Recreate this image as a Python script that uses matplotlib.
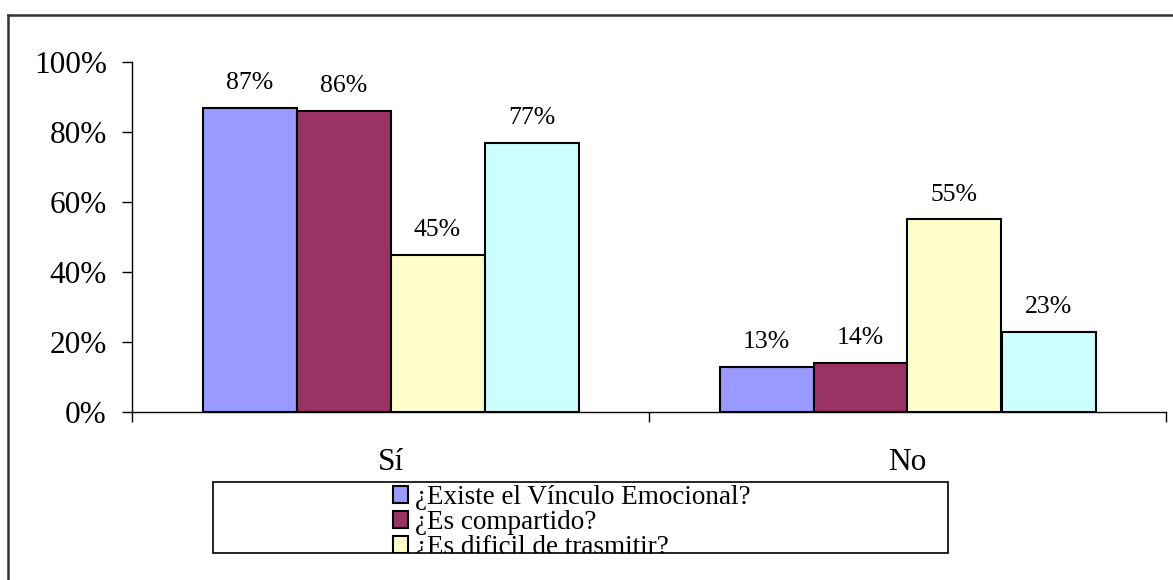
import matplotlib
matplotlib.use("Agg")
import matplotlib.pyplot as plt
import numpy as np
from matplotlib.patches import Rectangle, Patch
from matplotlib.lines import Line2D

categories = ["Sí", "No"]
series_names = ["¿Existe el Vínculo Emocional?", "¿Es compartido?",
                "¿Es dificil de trasmitir?", "Serie 4"]
series_values = [
    [0.87, 0.13],
    [0.86, 0.14],
    [0.45, 0.55],
    [0.77, 0.23],
]
value_labels = [["87%", "13%"], ["86%", "14%"], ["45%", "55%"], ["77%", "23%"]]
y_ticks = [0.0, 0.2, 0.4, 0.6, 0.8, 1.0]
y_tick_labels = ["0%", "20%", "40%", "60%", "80%", "100%"]
colors = ["#9999FF", "#993366", "#FFFFCC", "#CCFFFF"]

plt.rcParams["font.family"] = ["Liberation Serif", "DejaVu Serif"]

W, H = 1173, 580
fig = plt.figure(figsize=(W / 100, H / 100), dpi=100)
ax = fig.add_axes([132 / W, (H - 412) / H, (1166 - 132) / W, 350 / H])

n_series = len(series_values)
gap = 1.5
width = 1.0 / (n_series + gap)
x = np.arange(len(categories))
for i, (vals, c) in enumerate(zip(series_values, colors)):
    offs = (i - (n_series - 1) / 2) * width
    bars = ax.bar(x + offs, vals, width, color=c, edgecolor="black",
                  linewidth=1.5, label=series_names[i])
    for b, lab in zip(bars, value_labels[i]):
        ax.annotate(lab, (b.get_x() + b.get_width() / 2, b.get_height()),
                    xytext=(0, 10), textcoords="offset points",
                    ha="center", va="bottom", fontsize=18.5)

ax.set_xlim(-0.5, len(categories) - 0.5)
ax.set_ylim(0, 1.0)
ax.set_yticks(y_ticks)
ax.set_yticklabels(y_tick_labels, fontsize=22.5)
ax.tick_params(axis="y", direction="out", length=7, width=1, pad=11)

ax.set_xticks(np.arange(len(categories) + 1) - 0.5)
ax.set_xticklabels([])
ax.tick_params(axis="x", which="major", direction="out", length=7, width=1)
ax.set_xticks(x, minor=True)
ax.set_xticklabels(categories, minor=True, fontsize=22.5)
ax.tick_params(axis="x", which="minor", length=0, pad=26)

for s in ["top", "right"]:
    ax.spines[s].set_visible(False)
ax.spines["left"].set_linewidth(1)
ax.spines["bottom"].set_linewidth(1)

# legend (clipped box like the original)
handles = [Patch(facecolor=colors[i], edgecolor="black", linewidth=1.5)
           for i in range(3)]
leg = fig.legend(handles, series_names[:3], loc="upper left",
                 bbox_to_anchor=(393 / W, (H - 485) / H),
                 frameon=False, fontsize=19.5, handlelength=0.55,
                 handleheight=0.6, handletextpad=0.25, labelspacing=0.0,
                 borderpad=0, borderaxespad=0)
leg.set_zorder(5)

cover = Rectangle((210 / W, 0), (955 - 210) / W, (H - 553) / H,
                  transform=fig.transFigure, facecolor="white",
                  edgecolor="none", zorder=6)
fig.patches.append(cover)
frame = Rectangle((213 / W, (H - 553) / H), (948 - 213) / W, (553 - 482) / H,
                  transform=fig.transFigure, facecolor="none",
                  edgecolor="black", linewidth=1.2, zorder=7)
fig.patches.append(frame)

# outer chart border (top and left visible)
fig.add_artist(Line2D([8 / W, 8 / W], [0, (H - 15) / H], color="#333333",
                      linewidth=1.8, transform=fig.transFigure))
fig.add_artist(Line2D([8 / W, 1], [(H - 15) / H, (H - 15) / H],
                      color="#333333", linewidth=1.8,
                      transform=fig.transFigure))

fig.savefig("out.png", dpi=100)
